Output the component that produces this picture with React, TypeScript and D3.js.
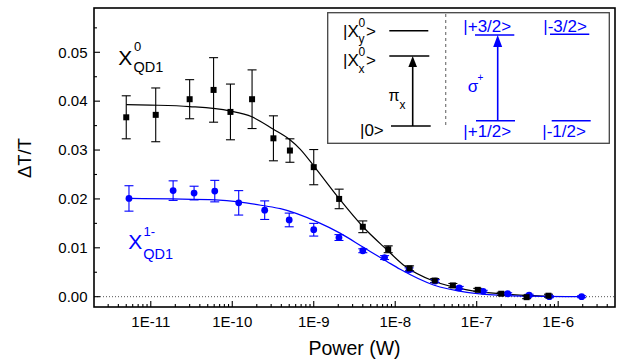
import React from "react";
import * as d3 from "d3";

// measured points, X0 (black squares)
const x0Power = [5.0e-12, 1.15e-11, 3.0e-11, 5.9e-11, 9.5e-11, 1.75e-10, 3.2e-10, 5.1e-10, 1.0e-9, 2.05e-9, 4.0e-9, 8.2e-9, 1.5e-8, 3.05e-8, 5.1e-8, 1.03e-7, 2.0e-7, 4.1e-7, 7.6e-7];
const x0Value = [0.0367, 0.0372, 0.0404, 0.0423, 0.0378, 0.0404, 0.0324, 0.0299, 0.0265, 0.02, 0.0143, 0.0097, 0.0058, 0.0033, 0.0023, 0.0014, 0.0006, -0.0001, 0.0002];
const x0Err = [0.0044, 0.0055, 0.004, 0.0066, 0.0057, 0.006, 0.0046, 0.0024, 0.0036, 0.002, 0.0012, 0.0007, 0.0005, 0.0004, 0.0004, 0.0003, 0.0003, 0.0003, 0.0003];

// measured points, X1- (blue circles)
const x1Power = [5.4e-12, 1.88e-11, 3.4e-11, 6.1e-11, 1.2e-10, 2.5e-10, 5.0e-10, 1.0e-9, 2.04e-9, 4.0e-9, 7.4e-9, 1.48e-8, 3.1e-8, 6.1e-8, 1.2e-7, 2.4e-7, 4.4e-7, 7.8e-7, 1.94e-6];
const x1Value = [0.0201, 0.0217, 0.0212, 0.0216, 0.0192, 0.0177, 0.0157, 0.0137, 0.0121, 0.0094, 0.008, 0.0055, 0.0032, 0.0018, 0.0011, 0.0006, 0.0003, 0.0, 0.0];
const x1Err = [0.0026, 0.002, 0.0014, 0.0022, 0.0025, 0.0019, 0.0014, 0.0013, 0.0006, 0.0004, 0.0004, 0.0004, 0.0003, 0.0003, 0.0002, 0.0002, 0.0002, 0.0002, 0.0002];

// fit curves
const fit0Power = [5e-12, 1e-11, 3e-11, 9.3e-11, 1.74e-10, 3.16e-10, 5.1e-10, 6.8e-10, 1.05e-9, 2.04e-9, 4.07e-9, 7.9e-9, 1.26e-8, 2.95e-8, 7.6e-8, 1.95e-7, 4.9e-7, 7.6e-7];
const fit0Value = [0.0393, 0.0392, 0.0389, 0.038, 0.0368, 0.0343, 0.0321, 0.0302, 0.0263, 0.0201, 0.0142, 0.0096, 0.0065, 0.0032, 0.0014, 0.0006, 0.0002, 0.0001];
const fit1Power = [5.4e-12, 1.86e-11, 6.2e-11, 1.2e-10, 2.45e-10, 3.9e-10, 1.1e-9, 2.1e-9, 4.07e-9, 7.9e-9, 1.15e-8, 2.95e-8, 7.6e-8, 1.95e-7, 4.9e-7, 1.95e-6];
const fit1Value = [0.0201, 0.02, 0.0198, 0.0194, 0.0186, 0.018, 0.0153, 0.013, 0.0101, 0.0072, 0.0056, 0.0024, 0.0009, 0.0003, 0.0001, 0.0];

const xMajorTicks = [1e-11, 1e-10, 1e-9, 1e-8, 1e-7, 1e-6];
const xTickLabels = ["1E-11", "1E-10", "1E-9", "1E-8", "1E-7", "1E-6"];
const yMajorTicks = [0, 0.01, 0.02, 0.03, 0.04, 0.05];
const yTickLabels = ["0.00", "0.01", "0.02", "0.03", "0.04", "0.05"];

const W = 621;
const H = 360;
const left = 94, right = 615, top = 8, bottom = 307;
const font = "'Liberation Sans', Arial, Helvetica, sans-serif";
const BLUE = "#0000ff";

const x = d3.scaleLog().domain([2.01e-12, 4.98e-6]).range([left, right]);
const y = d3.scaleLinear().domain([-0.00211, 0.05906]).range([bottom, top]);

const line = d3
  .line<[number, number]>()
  .x((d) => x(d[0]))
  .y((d) => y(d[1]))
  .curve(d3.curveMonotoneX);

const xMinor: number[] = [];
for (let e = -12; e <= -6; e++) {
  for (let k = 2; k <= 9; k++) {
    const v = k * Math.pow(10, e);
    if (v >= 2.01e-12 && v <= 4.98e-6) xMinor.push(v);
  }
}
const yMinor = d3.range(0.005, 0.059, 0.01);

function ErrorBars({ px, vals, errs, color }: { px: number[]; vals: number[]; errs: number[]; color: string }) {
  return (
    <g stroke={color} strokeWidth={1.1}>
      {px.map((p, i) => {
        const cx = x(p);
        const y1 = y(vals[i] + errs[i]);
        const y2 = y(vals[i] - errs[i]);
        return (
          <g key={i}>
            <line x1={cx} x2={cx} y1={y1} y2={y2} />
            <line x1={cx - 4.5} x2={cx + 4.5} y1={y1} y2={y1} />
            <line x1={cx - 4.5} x2={cx + 4.5} y1={y2} y2={y2} />
          </g>
        );
      })}
    </g>
  );
}

function Inset() {
  return (
    <g fontFamily={font}>
      <rect x={327.7} y={12.7} width={281.6} height={130.6} fill="white" stroke="#444" strokeWidth={1.3} />
      <line x1={445.7} x2={445.7} y1={14} y2={128} stroke="#777" strokeWidth={1.2} strokeDasharray="3,3" />
      {/* left, neutral exciton */}
      <g fill="#000" stroke="none">
        <text x={343} y={37} fontSize={17}>|X</text>
        <text x={358.5} y={26.5} fontSize={12}>0</text>
        <text x={358.5} y={43} fontSize={12}>y</text>
        <text x={366} y={37} fontSize={17}>&gt;</text>
        <text x={343} y={66} fontSize={17}>|X</text>
        <text x={358.5} y={56} fontSize={12}>0</text>
        <text x={358.5} y={72.5} fontSize={12}>x</text>
        <text x={366} y={66} fontSize={17}>&gt;</text>
        <text x={360} y={136} fontSize={17}>|0&gt;</text>
        <text x={388.5} y={101} fontSize={16}>π</text>
        <text x={399.5} y={109} fontSize={12}>x</text>
      </g>
      <g stroke="#000" strokeWidth={1.6}>
        <line x1={389.3} x2={428.3} y1={30.7} y2={30.7} />
        <line x1={389.3} x2={429.3} y1={56} y2={56} />
        <line x1={391} x2={430.7} y1={126} y2={126} />
        <line x1={412.7} x2={412.7} y1={126} y2={64} />
      </g>
      <polygon points="412.7,56 408.4,67 417,67" fill="#000" />
      {/* right, trion */}
      <g fill={BLUE} stroke="none" fontSize={17}>
        <text x={463.3} y={32}>|+3/2&gt;</text>
        <text x={543.3} y={32}>|-3/2&gt;</text>
        <text x={463.3} y={136.5}>|+1/2&gt;</text>
        <text x={542.3} y={136.5}>|-1/2&gt;</text>
        <text x={467.7} y={91.7}>σ</text>
        <text x={477.5} y={81} fontSize={10}>+</text>
      </g>
      <g stroke={BLUE} strokeWidth={1.6}>
        <line x1={475} x2={514.3} y1={35} y2={35} />
        <line x1={550} x2={589.3} y1={34.3} y2={34.3} />
        <line x1={476} x2={515} y1={120.7} y2={120.7} />
        <line x1={551.7} x2={590.7} y1={120.7} y2={120.7} />
        <line x1={497.7} x2={497.7} y1={120.7} y2={44} />
      </g>
      <polygon points="497.7,35 493.2,47 502.2,47" fill={BLUE} />
    </g>
  );
}

export default function App() {
  const fit0 = fit0Power.map((p, i) => [p, fit0Value[i]] as [number, number]);
  const fit1 = fit1Power.map((p, i) => [p, fit1Value[i]] as [number, number]);

  return (
    <svg width={W} height={H} style={{ position: "absolute", left: 0, top: 0, background: "white" }}>
      <rect width={W} height={H} fill="white" />
      {/* zero reference */}
      <line x1={left} x2={right} y1={y(0)} y2={y(0)} stroke="#555" strokeWidth={1} strokeDasharray="1,2" />

      {/* ticks */}
      <g stroke="#000" strokeWidth={1.1}>
        {xMajorTicks.map((t) => (
          <line key={"xm" + t} x1={x(t)} x2={x(t)} y1={bottom} y2={bottom - 6} />
        ))}
        {xMinor.map((t) => (
          <line key={"xn" + t} x1={x(t)} x2={x(t)} y1={bottom} y2={bottom - 3} />
        ))}
        {yMajorTicks.map((t) => (
          <line key={"ym" + t} x1={left} x2={left + 6} y1={y(t)} y2={y(t)} />
        ))}
        {yMinor.map((t) => (
          <line key={"yn" + t} x1={left} x2={left + 3} y1={y(t)} y2={y(t)} />
        ))}
      </g>
      <g fontFamily={font} fontSize={15} fill="#000">
        {xMajorTicks.map((t, i) => (
          <text key={"xl" + t} x={x(t)} y={327} textAnchor="middle">
            {xTickLabels[i]}
          </text>
        ))}
        {yMajorTicks.map((t, i) => (
          <text key={"yl" + t} x={87.5} y={y(t) + 5.3} textAnchor="end">
            {yTickLabels[i]}
          </text>
        ))}
      </g>

      {/* fits */}
      <path d={line(fit0) || ""} fill="none" stroke="#000" strokeWidth={1.2} />
      <path d={line(fit1) || ""} fill="none" stroke={BLUE} strokeWidth={1.2} />

      {/* data */}
      <ErrorBars px={x0Power} vals={x0Value} errs={x0Err} color="#000" />
      <ErrorBars px={x1Power} vals={x1Value} errs={x1Err} color={BLUE} />
      {x1Power.map((p, i) => (
        <circle key={"c" + i} cx={x(p)} cy={y(x1Value[i])} r={3.4} fill={BLUE} />
      ))}
      {x0Power.map((p, i) => (
        <rect key={"s" + i} x={x(p) - 3} y={y(x0Value[i]) - 3} width={6} height={6} fill="#000" />
      ))}

      {/* frame */}
      <rect x={left} y={top} width={right - left} height={bottom - top} fill="none" stroke="#000" strokeWidth={1.6} />

      <Inset />

      {/* series labels */}
      <g fontFamily={font}>
        <text x={118.3} y={65} fontSize={21} fill="#000">X</text>
        <text x={134} y={51} fontSize={13} fill="#000">0</text>
        <text x={133.5} y={71.5} fontSize={14.5} fill="#000">QD1</text>
        <text x={128.3} y={249} fontSize={21} fill={BLUE}>X</text>
        <text x={143.5} y={235.5} fontSize={13} fill={BLUE}>1-</text>
        <text x={143.3} y={258.5} fontSize={14.5} fill={BLUE}>QD1</text>
      </g>

      {/* axis titles */}
      <text x={354.5} y={355} fontFamily={font} fontSize={19.5} textAnchor="middle">Power (W)</text>
      <text transform="translate(31,158) rotate(-90)" fontFamily={font} fontSize={18.5} textAnchor="middle">ΔT/T</text>
    </svg>
  );
}
